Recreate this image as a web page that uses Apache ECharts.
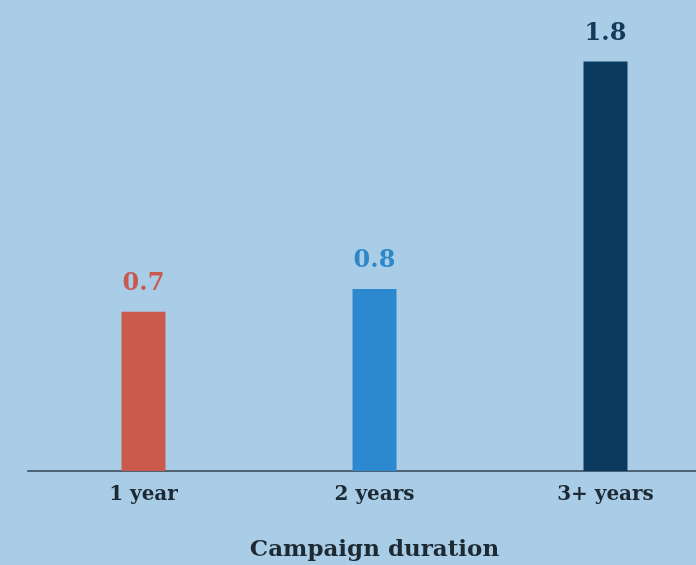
<!DOCTYPE html>
<html>
<head>
<meta charset="utf-8">
<script src="https://cdn.jsdelivr.net/npm/echarts@6/dist/echarts.min.js"></script>
<style>
  html, body { margin: 0; padding: 0; background: #a9cde6; }
  #chart { width: 696px; height: 565px; }
</style>
</head>
<body>
<div id="chart"></div>
<script>
const categories = ['1 year', '2 years', '3+ years']
const values = [0.7, 0.8, 1.8]
const barColors = ['#c95a4c', '#2c89cf', '#0a3a5f']
const labelColors = ['#c8594e', '#2e87c9', '#15395a']

let chart = echarts.init(document.getElementById('chart'))
let option = {
  backgroundColor: '#a9cde6',
  grid: {
    top: 16,
    left: 28,
    right: -25,
    bottom: 94,
    outerBoundsMode: 'none',
    containLabel: false
  },
  xAxis: {
    type: 'category',
    data: categories,
    name: 'Campaign duration',
    nameLocation: 'middle',
    nameGap: 68,
    nameTextStyle: {
      fontFamily: 'DejaVu Serif',
      fontWeight: 'bold',
      fontSize: 23,
      color: '#1d2a33'
    },
    axisLine: {
      lineStyle: { color: '#4d6272', width: 2 }
    },
    axisTick: { show: false },
    axisLabel: {
      margin: 14,
      fontFamily: 'DejaVu Serif',
      fontWeight: 'bold',
      fontSize: 20,
      color: '#1d2a33'
    }
  },
  yAxis: {
    type: 'value',
    min: 0,
    max: 2,
    show: false
  },
  series: [
    {
      type: 'bar',
      barWidth: 44,
      data: values.map((v, i) => ({
        value: v,
        itemStyle: { color: barColors[i] },
        label: { color: labelColors[i] }
      })),
      label: {
        show: true,
        position: 'top',
        distance: 16,
        fontFamily: 'DejaVu Serif',
        fontWeight: 'bold',
        fontSize: 24
      }
    }
  ]
}
chart.setOption(option)
</script>
</body>
</html>
